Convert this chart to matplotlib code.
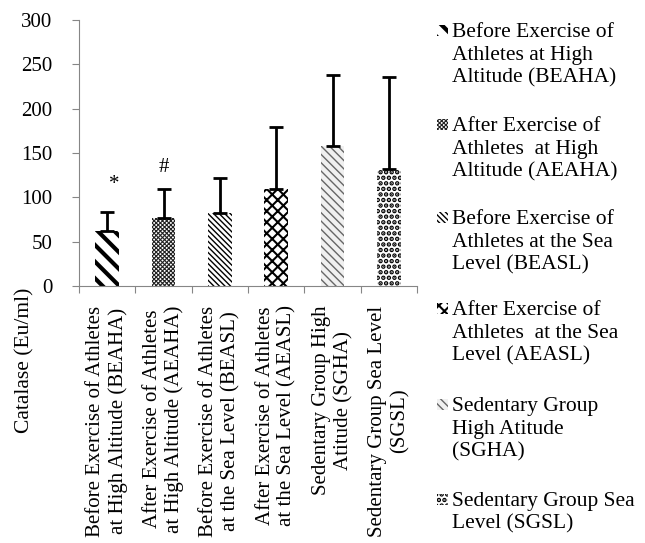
import numpy as np
import matplotlib
matplotlib.use('Agg')
import matplotlib.pyplot as plt
from matplotlib.patches import Rectangle

plt.rcParams['font.family'] = ['Liberation Serif', 'DejaVu Serif']

tick_labels = [
    'Before Exercise of Athletes\nat High Altitude (BEAHA)',
    'After Exercise of Athletes\nat High Altitude (AEAHA)',
    'Before Exercise of Athletes\nat the Sea Level (BEASL)',
    'After Exercise of Athletes\nat the Sea Level (AEASL)',
    'Sedentary Group High\nAtitude (SGHA)',
    'Sedentary Group Sea Level\n(SGSL)',
]
legend_labels = [
    'Before Exercise of\nAthletes at High\nAltitude (BEAHA)',
    'After Exercise of\nAthletes  at High\nAltitude (AEAHA)',
    'Before Exercise of\nAthletes at the Sea\nLevel (BEASL)',
    'After Exercise of\nAthletes  at the Sea\nLevel (AEASL)',
    'Sedentary Group\nHigh Atitude\n(SGHA)',
    'Sedentary Group Sea\nLevel (SGSL)',
]
means = [62, 76.5, 82, 109, 158, 132]
errors = [21, 32.5, 39.5, 70, 80, 104]
sig_marks = ['*', '#']
sig_pos = [(0.12, 114), (1.0, 134)]

hatches = ['\\\\', 'xxxxxxxx', '\\\\\\\\\\\\', 'xxx', '\\\\\\\\', '...']
faces = ['white', 'white', 'white', 'white', '#f0f0f0', 'white']
hatch_cols = ['black', '#222222', 'black', 'black', '#666666', 'black']
hatch_lws = [3.0, 0.8, 1.0, 1.5, 1.0, 2.3]

# first-line centre of each legend entry, in pixels from the top
legend_rows = [31, 125, 218, 309, 405, 500]

fig = plt.figure(figsize=(6.45, 5.43), dpi=100)
ax = fig.add_axes([79 / 645, 1 - 286 / 543, 338 / 645, 266 / 543])


def style_patch(p, i):
    p.set_facecolor(faces[i])
    p.set_edgecolor(hatch_cols[i])
    p.set_hatch(hatches[i])
    if hasattr(p, 'set_hatch_linewidth'):
        p.set_hatch_linewidth(hatch_lws[i])


x = np.arange(len(means))
bars = ax.bar(x, means, width=0.42, linewidth=0)
for i, b in enumerate(bars):
    style_patch(b, i)

ax.errorbar(x, means, yerr=[np.zeros(len(errors)), errors], fmt='none',
            ecolor='black', elinewidth=2, capsize=5, capthick=2)

for m, (px, py) in zip(sig_marks, sig_pos):
    ax.text(px, py, m, ha='center', va='center', fontsize=15)

ax.set_xlim(-0.5, 5.5)
ax.set_ylim(0, 300)
ax.set_yticks(np.arange(0, 301, 50))
ax.set_xticks(np.arange(-0.5, 6, 1))
ax.set_xticklabels([])
ax.set_xticks(x, minor=True)
ax.set_xticklabels(tick_labels, minor=True, rotation=90, ha='center', va='top',
                   multialignment='center', fontsize=15)
ax.tick_params(axis='x', which='minor', length=0, pad=14)
ax.tick_params(axis='x', which='major', length=5, color='#868686')
ax.tick_params(axis='y', length=5, color='#868686', labelsize=15, pad=14)

for s in ['top', 'right']:
    ax.spines[s].set_visible(False)
for s in ['left', 'bottom']:
    ax.spines[s].set_color('#868686')

fig.text(25 / 645, 1 - 360 / 543, 'Catalase (Eu/ml)', rotation=90,
         ha='center', va='center', fontsize=15.5)

# legend, built by hand so the marker sits at the first line of each entry
for i, (lab, row) in enumerate(zip(legend_labels, legend_rows)):
    r = Rectangle((437 / 645, 1 - (row + 5) / 543), 11 / 645, 11 / 543,
                  transform=fig.transFigure, linewidth=0)
    style_patch(r, i)
    fig.add_artist(r)
    fig.text(452 / 645, 1 - (row - 8) / 543, lab, ha='left', va='top',
             fontsize=15.5, linespacing=1.26)

fig.savefig('out.png', dpi=100)
